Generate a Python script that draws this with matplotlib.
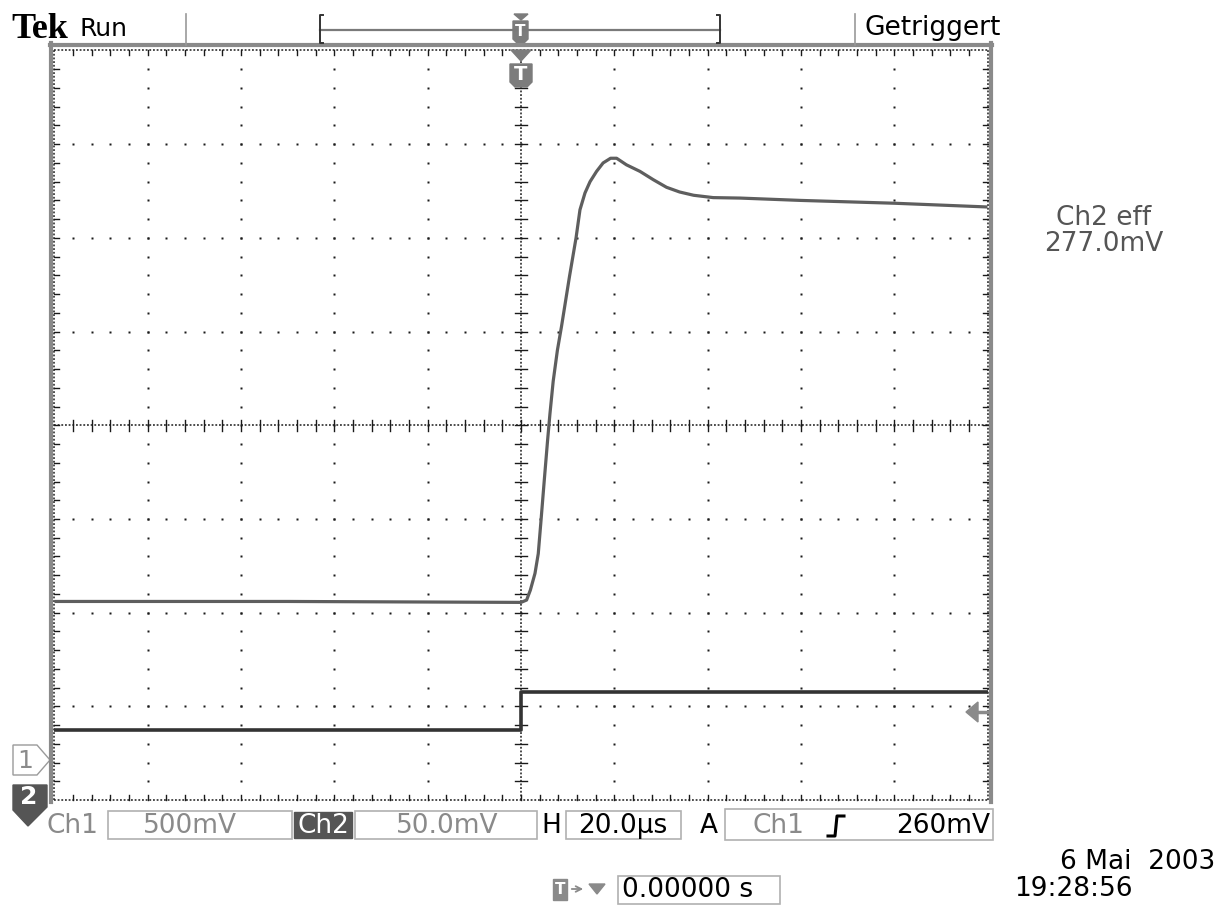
import numpy as np
import matplotlib
matplotlib.use("Agg")
import matplotlib.pyplot as plt
from matplotlib.patches import Polygon, Rectangle

# screen values in divisions (x: 0..10 div, y: 0..8 div)
ch2_t = [0.0, 2.5, 5.0, 5.06, 5.10, 5.15, 5.185, 5.215, 5.25, 5.285, 5.31, 5.345,
         5.39, 5.435, 5.52, 5.59, 5.632, 5.686, 5.74, 5.81, 5.88, 5.96, 6.025,
         6.13, 6.275, 6.42, 6.56, 6.70, 6.85, 7.06, 7.35, 8.0, 8.5, 9.0, 9.5, 10.0]
ch2_v = [2.12, 2.12, 2.11, 2.135, 2.24, 2.42, 2.63, 2.99, 3.42, 3.84, 4.12, 4.47,
         4.80, 5.06, 5.59, 6.00, 6.30, 6.48, 6.60, 6.71, 6.80, 6.85, 6.85,
         6.78, 6.71, 6.62, 6.54, 6.49, 6.455, 6.43, 6.425, 6.40, 6.385, 6.37, 6.35, 6.33]

ch1_t = [0.0, 5.0, 5.0, 10.0]
ch1_v = [0.75, 0.75, 1.155, 1.155]

readouts = ["Ch1", "500mV", "Ch2", "50.0mV", "H", "20.0µs", "A", "Ch1", "260mV"]
ch2_rms = ["Ch2 eff", "277.0mV"]
date_str = "6 Mai  2003"
time_str = "19:28:56"
trig_pos = "0.00000 s"

W, H = 1226, 913
GRID_L, GRID_R, GRID_T, GRID_B = 54.5, 987.5, 50.5, 800.1

fig = plt.figure(figsize=(W / 100, H / 100), dpi=100)
fig.patch.set_facecolor("white")

# graticule axes, aligned with the screen
ax = fig.add_axes([GRID_L / W, 1 - GRID_B / H, (GRID_R - GRID_L) / W, (GRID_B - GRID_T) / H])
ax.set_xlim(0, 10)
ax.set_ylim(0, 8)
ax.axis("off")

dot = dict(ls="none", marker="s", ms=1.5, color="#1a1a1a", mec="none", clip_on=False)
minor = np.arange(0.2, 10, 0.2)
minor_y = np.arange(0.2, 8, 0.2)
for gx in range(1, 10):
    if gx != 5:
        ax.plot(np.full_like(minor_y, gx), minor_y, **dot)
for gy in range(1, 8):
    if gy != 4:
        ax.plot(minor, np.full_like(minor, gy), **dot)

dense = dict(color="#1a1a1a", lw=1.1, ls=(0, (1.2, 1.2)), clip_on=False)
tick = dict(color="#1a1a1a", lw=1.0, clip_on=False)
# centre lines and edges
ax.plot([5, 5], [0, 8], **dense)
ax.plot([0, 10], [4, 4], **dense)
ax.plot([0, 10], [0, 0], **dense)
ax.plot([0, 10], [8, 8], **dense)
ax.plot([0, 0], [0, 8], **dense)
ax.plot([10, 10], [0, 8], **dense)
for v in minor:
    ax.plot([v, v], [4 - 0.06, 4 + 0.06], **tick)
    ax.plot([v, v], [0, 0.05], **tick)
    ax.plot([v, v], [8 - 0.05, 8], **tick)
for v in minor_y:
    ax.plot([5 - 0.065, 5 + 0.065], [v, v], **tick)
    ax.plot([0, 0.045], [v, v], **tick)
    ax.plot([10 - 0.045, 10], [v, v], **tick)

# traces
ax.plot(ch2_t, ch2_v, color="#5e5e5e", lw=2.3, solid_capstyle="butt", solid_joinstyle="round",
        clip_on=False, zorder=5)
ax.plot(ch1_t, ch1_v, color="#333333", lw=2.6, solid_capstyle="butt", clip_on=False, zorder=5)

# screen chrome in pixel coordinates
ov = fig.add_axes([0, 0, 1, 1], facecolor="none")
ov.set_xlim(0, W)
ov.set_ylim(H, 0)
ov.axis("off")

gray = "#8a8a8a"
ov.plot([51, 51], [43, 802], color=gray, lw=3)
ov.plot([49.5, 992], [45, 45], color=gray, lw=3)
ov.plot([990.5, 990.5], [43, 802], color=gray, lw=3)

fs = 19
# top status line
ov.text(11, 30, "Tek", family="Liberation Serif", weight="bold", fontsize=26, va="center", ha="left")
ov.text(79, 29, "Run", family="DejaVu Sans", fontsize=18, va="center", ha="left")
ov.text(864, 28, "Getriggert", family="DejaVu Sans", fontsize=fs, va="center", ha="left")
ov.plot([186, 186], [14, 45], color="#999999", lw=1.2)
ov.plot([855, 855], [14, 45], color="#999999", lw=1.2)
ov.plot([320, 720], [30, 30], color="#7a7a7a", lw=1.6)
ov.plot([323, 320, 320, 323], [15, 15, 43, 43], color="#333333", lw=1.4)
ov.plot([717, 720, 720, 717], [15, 15, 43, 43], color="#333333", lw=1.4)

tcol = "#7c7c7c"
ov.add_patch(Polygon([(514, 14), (528, 14), (521, 20)], closed=True, color=tcol))
ov.add_patch(Polygon([(513, 21), (528, 21), (528, 39), (524, 43), (517, 43), (513, 39)], closed=True, color=tcol))
ov.text(520.5, 32, "T", color="white", fontsize=11, weight="bold", ha="center", va="center")
ov.add_patch(Polygon([(511, 50), (531, 50), (521, 61)], closed=True, color=tcol, zorder=6))
ov.add_patch(Polygon([(510, 64), (532, 64), (532, 82), (527, 87), (515, 87), (510, 82)], closed=True, color=tcol))
ov.text(521, 75, "T", color="white", fontsize=14, weight="bold", ha="center", va="center")

# channel ground markers
ov.add_patch(Polygon([(13, 745), (37, 745), (50, 760), (37, 775), (13, 775)], closed=True,
                     facecolor="white", edgecolor="#9a9a9a", lw=1.0))
ov.text(25, 760.5, "1", color="#8a8a8a", fontsize=18, ha="center", va="center")
ov.add_patch(Polygon([(13, 785), (47, 785), (47, 807), (28, 826), (13, 810)], closed=True, color="#555555"))
ov.text(29, 797, "2", color="white", fontsize=18, weight="bold", ha="center", va="center")

# trigger level arrow
ov.add_patch(Polygon([(966, 712), (978, 702), (978, 722)], closed=True, color="#8a8a8a"))
ov.plot([976, 988], [712, 712], color="#8a8a8a", lw=2.5)

# measurement readout
ov.text(1104, 218, ch2_rms[0], color="#555555", fontsize=fs, ha="center", va="center")
ov.text(1104, 244, ch2_rms[1], color="#555555", fontsize=fs, ha="center", va="center")

# bottom readout line
box = dict(facecolor="white", edgecolor="#b0b0b0", lw=1.2)
ov.text(47, 826, readouts[0], color="#8a8a8a", fontsize=fs, ha="left", va="center")
ov.add_patch(Rectangle((108, 811), 184, 28, **box))
ov.text(190, 826, readouts[1], color="#8a8a8a", fontsize=fs, ha="center", va="center")
ov.add_patch(Rectangle((294, 812), 58, 26, color="#555555"))
ov.text(323, 826, readouts[2], color="white", fontsize=fs, ha="center", va="center")
ov.add_patch(Rectangle((355, 811), 182, 28, **box))
ov.text(447, 826, readouts[3], color="#8a8a8a", fontsize=fs, ha="center", va="center")
ov.text(551, 826, readouts[4], color="black", fontsize=fs, ha="center", va="center")
ov.add_patch(Rectangle((566, 811), 115, 28, **box))
ov.text(623, 826, readouts[5], color="black", fontsize=fs, ha="center", va="center")
ov.text(709, 826, readouts[6], color="black", fontsize=fs, ha="center", va="center")
ov.add_patch(Rectangle((725, 809), 268, 31, **box))
ov.text(753, 826, readouts[7], color="#8a8a8a", fontsize=fs, ha="left", va="center")
ov.plot([828, 835, 837, 844], [836, 836, 816, 816], color="black", lw=2.2)
ov.text(990, 826, readouts[8], color="black", fontsize=fs, ha="right", va="center")

# date, time, trigger position
ov.text(1215, 862, date_str, color="black", fontsize=fs, ha="right", va="center")
ov.text(1014, 889, time_str, color="black", fontsize=fs, ha="left", va="center")
ov.add_patch(Rectangle((553, 879), 14, 21, color="#8a8a8a"))
ov.text(560, 889, "T", color="white", fontsize=11, weight="bold", ha="center", va="center")
ov.annotate("", xy=(586, 889), xytext=(569, 889),
            arrowprops=dict(arrowstyle="->", color="#8a8a8a", lw=1.3))
ov.add_patch(Polygon([(589, 884), (605, 884), (597, 894)], closed=True, color="#8a8a8a"))
ov.add_patch(Rectangle((618, 876), 162, 28, **box))
ov.text(622, 890, trig_pos, color="black", fontsize=fs, ha="left", va="center")

fig.savefig("out.png", dpi=100, facecolor="white")
